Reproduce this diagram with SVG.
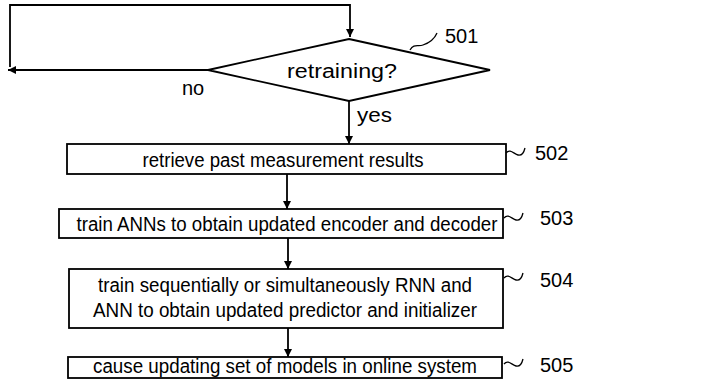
<svg xmlns="http://www.w3.org/2000/svg" width="717" height="390" viewBox="0 0 717 390">
<defs>
<marker id="ah" viewBox="0 0 10 10" refX="10" refY="5" markerWidth="8" markerHeight="8" markerUnits="userSpaceOnUse" orient="auto">
<path d="M0,0 L10,5 L0,10 z" fill="#000"/>
</marker>
<style>
.n{fill:#fff;stroke:#000;stroke-width:1.8}
.t{font-family:"Liberation Sans",Arial,sans-serif;font-size:20px;fill:#000}
.c{text-anchor:middle}
.l{fill:none;stroke:#000;stroke-width:1.8}
.s{fill:none;stroke:#000;stroke-width:1.3}
</style>
</defs>
<rect width="717" height="390" fill="#fff"/>
<g id="connectors">
<path class="l" d="M10,67 V5 H350 V37" marker-end="url(#ah)"/>
<path class="l" d="M208,70 H8" marker-end="url(#ah)"/>
<path class="l" d="M349,101 V144" marker-end="url(#ah)"/>
<path class="l" d="M287,174 V209" marker-end="url(#ah)"/>
<path class="l" d="M288,238 V269" marker-end="url(#ah)"/>
<path class="l" d="M288,328 V357" marker-end="url(#ah)"/>
<text class="t" x="182" y="95">no</text>
<text class="t" x="357" y="122" textLength="35" lengthAdjust="spacingAndGlyphs">yes</text>
</g>
<g id="n501">
<polygon class="n" points="349,39 490,70 349,101 208,70"/>
<text class="t c" x="342" y="78" textLength="110" lengthAdjust="spacingAndGlyphs">retraining?</text>
<path class="s" d="M410,50 C414,43 418,47 423,45 C429,43 434,40 437,33"/>
<text class="t" x="445" y="43">501</text>
</g>
<g id="n502">
<rect class="n" x="67" y="144" width="439" height="30"/>
<text class="t c" x="283" y="167" textLength="281" lengthAdjust="spacingAndGlyphs">retrieve past measurement results</text>
<path class="s" d="M506,153 C510,148 514,154 518,155 C522,156 524,152 525,148"/>
<text class="t" x="535" y="160">502</text>
</g>
<g id="n503">
<rect class="n" x="59" y="209" width="444" height="29"/>
<text class="t c" x="287" y="231" textLength="421" lengthAdjust="spacingAndGlyphs">train ANNs to obtain updated encoder and decoder</text>
<path class="s" d="M504,218 C508,213 512,219 516,220 C520,221 522,217 523,213"/>
<text class="t" x="540" y="225">503</text>
</g>
<g id="n504">
<rect class="n" x="69" y="269" width="434" height="59"/>
<text class="t c" x="285" y="292" textLength="374" lengthAdjust="spacingAndGlyphs">train sequentially or simultaneously RNN and</text>
<text class="t c" x="285" y="317" textLength="384" lengthAdjust="spacingAndGlyphs">ANN to obtain updated predictor and initializer</text>
<path class="s" d="M504,278 C508,273 512,279 516,280 C520,281 522,277 523,273"/>
<text class="t" x="540" y="287">504</text>
</g>
<g id="n505">
<rect class="n" x="68" y="357" width="434" height="21"/>
<text class="t c" x="285" y="373" textLength="384" lengthAdjust="spacingAndGlyphs">cause updating set of models in online system</text>
<path class="s" d="M504,364 C508,359 512,365 516,366 C520,367 522,363 523,359"/>
<text class="t" x="540" y="372">505</text>
</g>
</svg>
